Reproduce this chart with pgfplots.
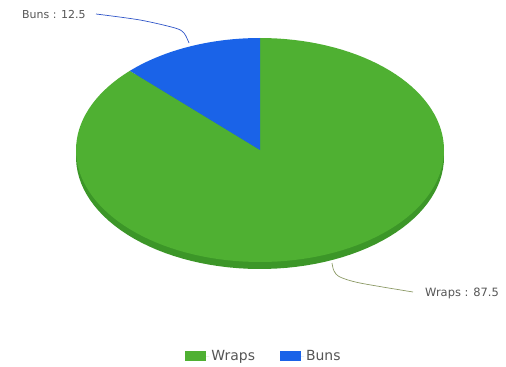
\documentclass[border=0pt]{standalone}
\usepackage{pgfplots}
\usepackage{pgfplotstable}
\pgfplotsset{compat=1.18}
\usepackage{fontspec}
\setmainfont{DejaVu Sans}
\definecolor{wraps}{HTML}{4FB032}
\definecolor{wrapsside}{HTML}{3C9628}
\definecolor{buns}{HTML}{1A63E8}
\definecolor{txt}{HTML}{555555}
\definecolor{bunsline}{HTML}{2F55C8}
\definecolor{wrapsline}{HTML}{8C9A66}
\pgfplotstableread{
label value
Wraps 87.5
Buns 12.5
}\piedata
\pgfplotstablegetelem{0}{value}\of\piedata \let\vW\pgfplotsretval
\pgfplotstablegetelem{1}{value}\of\piedata \let\vB\pgfplotsretval
\pgfmathsetmacro\aB{90+\vB/(\vW+\vB)*360}
\pgfmathsetmacro\aW{\aB+\vW/(\vW+\vB)*360}
\begin{document}
\begin{tikzpicture}
\begin{axis}[hide axis, scale only axis, width=506bp, height=367bp,
  xmin=0, xmax=506, ymin=0, ymax=367, y dir=reverse, clip=false,
  legend style={at={(axis cs:264,356)}, anchor=center, draw=none, fill=none,
    legend columns=2, font=\fontsize{14}{16}\selectfont, text=txt,
    /tikz/every even column/.append style={column sep=23bp}},
  legend image code/.code={\fill[#1] (0bp,-5bp) rectangle (21bp,5bp); \path (0bp,0bp) -- (24bp,0bp);},
]
\path (rel axis cs:0,0) rectangle (rel axis cs:1,1);
\addplot[draw=none, fill=wrapsside, samples=120, domain=0:360, forget plot] ({260+184*cos(x)},{157-112*sin(x)});
\addplot[draw=none, fill=wraps, samples=120, domain=\aB:\aW] ({260+184*cos(x)},{150-112*sin(x)}) -- (axis cs:260,150) -- cycle;
\addlegendentry{Wraps}
\addplot[draw=none, fill=buns, samples=30, domain=90:\aB] ({260+184*cos(x)},{150-112*sin(x)}) -- (axis cs:260,150) -- cycle;
\addlegendentry{Buns}
\addplot[bunsline, line width=0.7pt, smooth, forget plot] coordinates {(96,14) (140,20) (175,28) (184,33) (189,43)};
\addplot[wrapsline, line width=0.7pt, smooth, forget plot] coordinates {(332,263) (334,271) (340,277) (360,283) (413,292)};
\node[anchor=west, inner sep=0pt, text=txt, font=\fontsize{11}{13}\selectfont] at (axis cs:22,15) {Buns : 12.5};
\node[anchor=west, inner sep=0pt, text=txt, font=\fontsize{11.5}{13}\selectfont] at (axis cs:425,293) {Wraps : 87.5};
\end{axis}
\end{tikzpicture}
\end{document}
